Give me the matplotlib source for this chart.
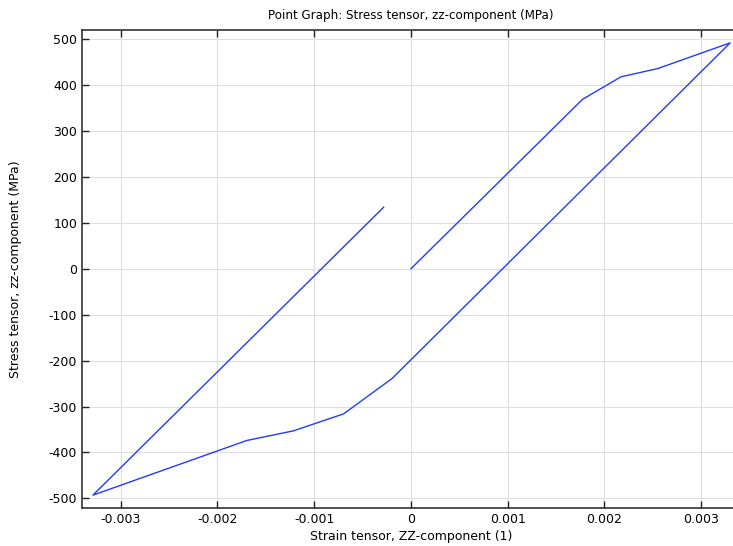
import matplotlib
matplotlib.use("Agg")
import matplotlib.pyplot as plt

strain = [0.0, 0.001774, 0.002171, 0.002551, 0.0033, -0.000195, -0.000696,
          -0.001215, -0.001697, -0.003287, -0.000282]
stress = [0.0, 369, 418, 436, 492, -239, -316, -353, -374, -493, 134]

xticks = [-0.003, -0.002, -0.001, 0.0, 0.001, 0.002, 0.003]
xticklabels = ["-0.003", "-0.002", "-0.001", "0", "0.001", "0.002", "0.003"]
yticks = [-500, -400, -300, -200, -100, 0, 100, 200, 300, 400, 500]
yticklabels = [str(v) for v in yticks]

title = "Point Graph: Stress tensor, zz-component (MPa)"
xlabel = "Strain tensor, ZZ-component (1)"
ylabel = "Stress tensor, zz-component (MPa)"

plt.rcParams["font.family"] = ["DejaVu Sans"]
plt.rcParams["axes.unicode_minus"] = False

fig = plt.figure(figsize=(7.33, 5.46), dpi=100)
ax = fig.add_axes([82/733, 38/546, 1 - 82/733 + 0.01, 478/546])

ax.plot(strain, stress, color="#1f3cff", linewidth=1.0)

ax.set_xlim(-0.0034, 0.003405)
ax.set_ylim(-521, 520)
ax.set_xticks(xticks)
ax.set_xticklabels(xticklabels)
ax.set_yticks(yticks)
ax.set_yticklabels(yticklabels)
ax.grid(True, color="#dedede", linewidth=0.8)
ax.set_axisbelow(True)

ax.tick_params(direction="in", length=5, width=1.0, labelsize=9, color="#222222",
               top=True, right=False, labeltop=False)
for side in ["left", "bottom", "top"]:
    ax.spines[side].set_color("#333333")
    ax.spines[side].set_linewidth(1.2)
ax.spines["right"].set_visible(False)

ax.set_title(title, fontsize=8.6, pad=8)
ax.set_xlabel(xlabel, fontsize=9, labelpad=3)
ax.set_ylabel(ylabel, fontsize=9, labelpad=19)

fig.savefig("out.png", dpi=100)
